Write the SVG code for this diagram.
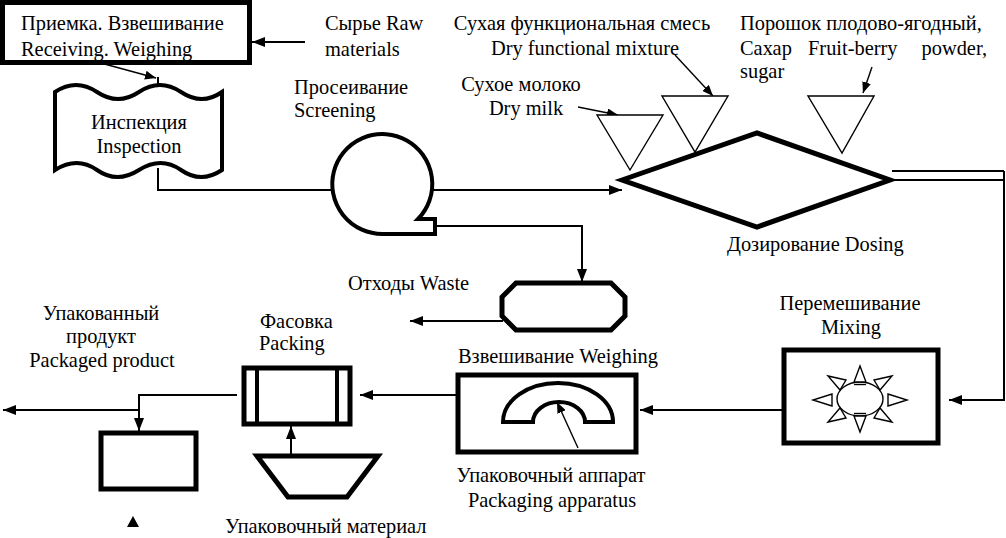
<svg xmlns="http://www.w3.org/2000/svg" width="1006" height="538" viewBox="0 0 1006 538">
<defs>
<style>
text{font-family:"Liberation Serif","Times New Roman",serif;font-size:20.4px;fill:#000}
.thick{fill:#fff;stroke:#000;stroke-width:5}
.med{fill:#fff;stroke:#000;stroke-width:4}
.thin{fill:#fff;stroke:#000;stroke-width:1.4}
.c{fill:none;stroke:#000;stroke-width:2}
.cs{fill:none;stroke:#000;stroke-width:1.4}
.m{text-anchor:middle}
</style>
<marker id="ah" markerUnits="userSpaceOnUse" markerWidth="13" markerHeight="10" refX="13" refY="5" orient="auto" viewBox="0 0 13 10">
<path d="M0,0 L13,5 L0,10 z" fill="#000"/>
</marker>
<marker id="as" markerUnits="userSpaceOnUse" markerWidth="11" markerHeight="9" refX="11" refY="4.5" orient="auto" viewBox="0 0 11 9">
<path d="M0,0 L11,4.5 L0,9 z" fill="#000"/>
</marker>
</defs>

<g id="connectors">
<line class="c" x1="305" y1="42" x2="252" y2="42" marker-end="url(#ah)"/>
<line class="cs" x1="75" y1="56" x2="156" y2="78" marker-end="url(#as)"/>
<line class="c" x1="158" y1="77" x2="158" y2="87"/>
<polyline class="c" points="158,168 158,190 333,190"/>
<line class="c" x1="433" y1="190" x2="622" y2="190" marker-end="url(#ah)"/>
<polyline class="c" points="435,226 582,226 582,282" marker-end="url(#ah)"/>
<line class="c" x1="503" y1="321" x2="410" y2="321" marker-end="url(#ah)"/>
<line class="cs" x1="578" y1="107" x2="618" y2="115" marker-end="url(#as)"/>
<line class="cs" x1="675" y1="55" x2="713" y2="96" marker-end="url(#as)"/>
<line class="cs" x1="872" y1="67" x2="863" y2="93" marker-end="url(#as)"/>
<line class="c" x1="892" y1="171" x2="1004" y2="171"/>
<line class="c" x1="892" y1="180" x2="1004" y2="180"/>
<polyline class="c" points="1004,171 1004,400 949,400" marker-end="url(#ah)"/>
<line class="c" x1="784" y1="410" x2="640" y2="410" marker-end="url(#ah)"/>
<line class="c" x1="456" y1="395" x2="360" y2="395" marker-end="url(#ah)"/>
<polyline class="c" points="237,395 139,395 139,431" marker-end="url(#ah)"/>
<line class="c" x1="139" y1="410" x2="3" y2="410" marker-end="url(#ah)"/>
<line class="c" x1="291" y1="456" x2="291" y2="426" marker-end="url(#ah)"/>
<polygon points="133,516 127,527 139,527" fill="#000"/>
</g>

<g id="receiving">
<rect class="thick" x="2.5" y="2.5" width="247" height="60"/>
<text x="21" y="30">Приемка. Взвешивание</text>
<text x="21" y="56">Receiving. Weighing</text>
</g>

<g id="raw-materials">
<text x="325" y="30">Сырье Raw</text>
<text x="325" y="56">materials</text>
</g>

<g id="inspection">
<path class="med" d="M55,92 Q76,78 97,92 T139,92 T181,92 T222,92 L222,170 Q201,184 181,170 T139,170 T97,170 T55,170 Z"/>
<text class="m" x="139" y="129">Инспекция</text>
<text class="m" x="139" y="153">Inspection</text>
</g>

<g id="screening">
<text x="294" y="94">Просеивание</text>
<text x="294" y="117">Screening</text>
<path class="med" d="M383,234 A50,50 0 1 1 418,219 L435,219 L435,234 Z"/>
</g>

<g id="waste">
<polygon class="thick" points="516,283 611,283 625,297 625,316 611,330 516,330 502,316 502,297"/>
<text x="348" y="290">Отходы Waste</text>
</g>

<g id="feed-dry-milk">
<polygon class="thin" points="597,115 663,115 630,170"/>
<text class="m" x="521" y="91">Сухое молоко</text>
<text class="m" x="526" y="115">Dry milk</text>
</g>

<g id="feed-dry-mixture">
<polygon class="thin" points="662,96 728,96 695,152"/>
<text class="m" x="582" y="30">Сухая функциональная смесь</text>
<text class="m" x="585" y="55">Dry functional mixture</text>
</g>

<g id="feed-fruit-sugar">
<polygon class="thin" points="808,96 874,96 842,153"/>
<text x="740" y="30">Порошок плодово-ягодный,</text>
<text x="740" y="55">Сахар</text>
<text x="808" y="55">Fruit-berry</text>
<text x="987" y="55" text-anchor="end">powder,</text>
<text x="740" y="78">sugar</text>
</g>

<g id="dosing">
<polygon class="thick" points="622,180 757,133 890,180 757,227" fill="none"/>
<text x="727" y="251">Дозирование Dosing</text>
</g>

<g id="mixing">
<text class="m" x="850" y="310">Перемешивание</text>
<text class="m" x="851" y="334">Mixing</text>
<rect class="thick" x="784" y="350" width="154" height="93"/>
<ellipse class="thin" cx="860" cy="399" rx="23" ry="17"/>
<g class="thin">
<polygon points="854,382 866,382 860,366"/>
<polygon points="854,416 866,416 860,432"/>
<polygon points="832,394 832,406 813,400"/>
<polygon points="888,394 888,406 907,400"/>
<polygon points="846,380 840,390 828,376"/>
<polygon points="874,380 880,390 892,376"/>
<polygon points="846,418 840,408 828,422"/>
<polygon points="874,418 880,408 892,422"/>
<line x1="854" y1="384.5" x2="866" y2="384.5"/>
<line x1="854" y1="413.5" x2="866" y2="413.5"/>
</g>
</g>

<g id="weighing">
<text x="458" y="363">Взвешивание Weighing</text>
<rect class="thick" x="458" y="375" width="178" height="77"/>
<path class="med" d="M503,422 A55,39 0 0 1 613,422 L585,422 A26,20 0 0 0 533,422 Z"/>
<line class="cs" x1="578" y1="448" x2="557" y2="402" marker-end="url(#as)"/>
<text class="m" x="551" y="482">Упаковочный аппарат</text>
<text class="m" x="552" y="507">Packaging apparatus</text>
</g>

<g id="packing">
<text x="260" y="328">Фасовка</text>
<text x="259" y="350">Packing</text>
<rect class="thick" x="244" y="368" width="106" height="56"/>
<line x1="257" y1="368" x2="257" y2="424" stroke="#000" stroke-width="4"/>
<line x1="337" y1="368" x2="337" y2="424" stroke="#000" stroke-width="4"/>
</g>

<g id="packaging-material">
<polygon class="thick" points="257,456 378,456 347,497 288,497"/>
<text x="225" y="533">Упаковочный материал</text>
</g>

<g id="packaged-product">
<text class="m" x="101" y="320">Упакованный</text>
<text class="m" x="101" y="343">продукт</text>
<text class="m" x="102" y="367">Packaged product</text>
<rect class="thick" x="101" y="433" width="95" height="56"/>
</g>
</svg>
